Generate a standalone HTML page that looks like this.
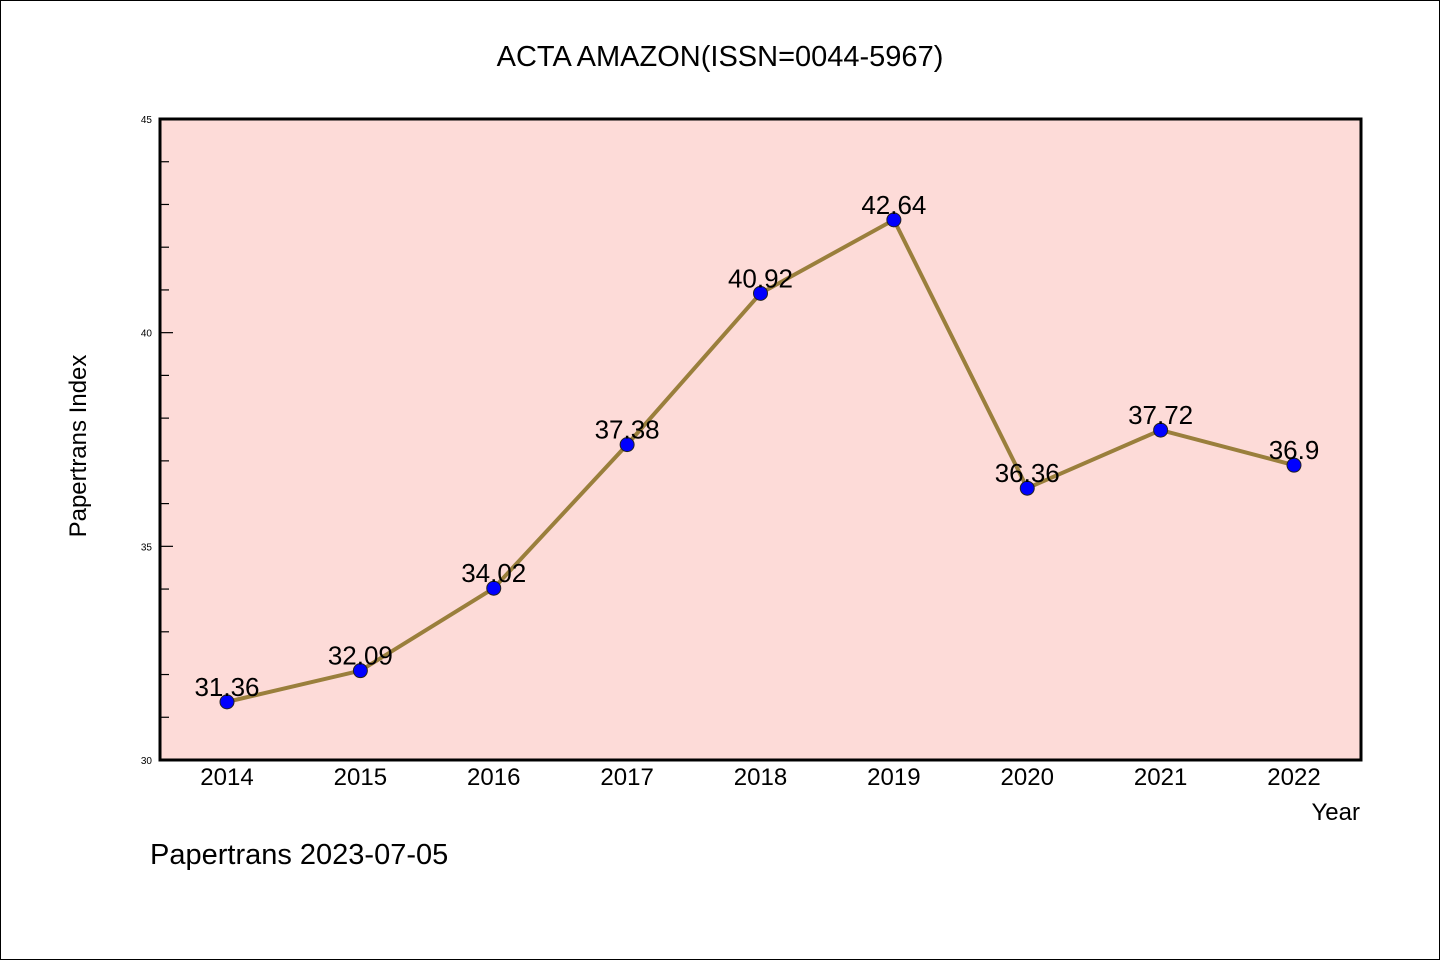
<!DOCTYPE html>
<html><head><meta charset="utf-8"><style>
body{margin:0;background:#fff}
svg text{font-family:"WenQuanYi Zen Hei","Liberation Sans",sans-serif}
</style></head><body>
<svg width="1440" height="960">
<rect x="0.5" y="0.5" width="1439" height="959" fill="#fff" stroke="#000"/>
<text x="720" y="66" font-size="29" text-anchor="middle">ACTA AMAZON(ISSN=0044-5967)</text>
<rect x="160" y="119" width="1201" height="641" fill="#fddbd8" stroke="#000" stroke-width="3"/>
<g id="yaxis"></g><g id="xaxis"></g><g id="series"></g>
<text x="86" y="446" font-size="24" text-anchor="middle" transform="rotate(-90 86 446)">Papertrans Index</text>
<text x="1360" y="820" font-size="24" text-anchor="end">Year</text>
<text x="150" y="864" font-size="29">Papertrans 2023-07-05</text>
</svg>
<script>
const years=[2014,2015,2016,2017,2018,2019,2020,2021,2022];
const values=[31.36,32.09,34.02,37.38,40.92,42.64,36.36,37.72,36.9];
const labels=["31.36","32.09","34.02","37.38","40.92","42.64","36.36","37.72","36.9"];
const yTicks=[30,35,40,45];
const NS="http://www.w3.org/2000/svg";
const yS=v=>760-(v-30)*641/15;
const xS=i=>227+i*133.375;
function mk(t,a,p){const e=document.createElementNS(NS,t);for(const k in a)e.setAttribute(k,a[k]);p.appendChild(e);return e;}
const ya=document.getElementById('yaxis'),xa=document.getElementById('xaxis'),sr=document.getElementById('series');
for(let v=31;v<45;v++){if(v%5===0)continue;const t=mk('line',{x1:160,x2:169,y1:yS(v),y2:yS(v),stroke:'#000','stroke-width':1.2},ya);

}
yTicks.forEach(v=>{const t=mk('line',{x1:160,x2:173,y1:yS(v),y2:yS(v),stroke:'#000','stroke-width':1.2},ya);


const l=mk('text',{x:152,y:yS(v)+4,'font-size':10,'text-anchor':'end'},ya);l.textContent=v;

});
years.forEach((y,i)=>{const l=mk('text',{x:xS(i),y:785,'font-size':24,'text-anchor':'middle'},xa);l.textContent=y;

});
const pl=mk('polyline',{points:values.map((v,i)=>xS(i)+','+yS(v)).join(' '),fill:'none',stroke:'#9a7f3c','stroke-width':4},sr);


values.forEach((v,i)=>{const c=mk('circle',{cx:xS(i),cy:yS(v),r:7,fill:'#0000ff',stroke:'#222','stroke-width':1},sr);


const l=mk('text',{x:xS(i),y:yS(v)-6,'font-size':26,'text-anchor':'middle'},sr);l.textContent=labels[i];

});
</script>
</body></html>
